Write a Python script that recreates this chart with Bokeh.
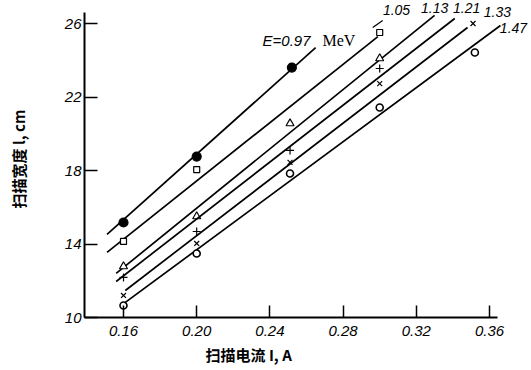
from bokeh.plotting import figure
from bokeh.models import Range1d, FixedTicker, Title
from bokeh.embed import file_html
from bokeh.resources import INLINE
from bokeh.core.properties import value

# ---- data ----
energies = ["0.97", "1.05", "1.13", "1.21", "1.33", "1.47"]
markers = ["circle", "square", "triangle", "cross", "x", "circle"]
filled = [True, False, False, False, False, False]

pts_x = {
    "0.97": [0.160, 0.200, 0.252],
    "1.05": [0.160, 0.200, 0.300],
    "1.13": [0.160, 0.200, 0.251, 0.300],
    "1.21": [0.160, 0.200, 0.251, 0.300],
    "1.33": [0.160, 0.200, 0.251, 0.300, 0.351],
    "1.47": [0.160, 0.200, 0.251, 0.300, 0.352],
}
pts_y = {
    "0.97": [15.17, 18.76, 23.60],
    "1.05": [14.14, 18.05, 25.51],
    "1.13": [12.78, 15.50, 20.56, 24.10],
    "1.21": [12.18, 14.68, 19.09, 23.55],
    "1.33": [11.20, 14.03, 18.44, 22.73, 26.00],
    "1.47": [10.65, 13.48, 17.84, 21.43, 24.42],
}
# fitted straight lines (start, end)
fit_x = {
    "0.97": [0.151, 0.265],
    "1.05": [0.151, 0.299],
    "1.13": [0.156, 0.330],
    "1.21": [0.156, 0.341],
    "1.33": [0.161, 0.348],
    "1.47": [0.161, 0.366],
}
fit_y = {
    "0.97": [14.52, 24.69],
    "1.05": [13.54, 25.29],
    "1.13": [12.40, 26.44],
    "1.21": [11.96, 26.27],
    "1.33": [11.47, 25.78],
    "1.47": [10.82, 25.89],
}

x_ticks = [0.16, 0.20, 0.24, 0.28, 0.32, 0.36]
x_tick_labels = ["0.16", "0.20", "0.24", "0.28", "0.32", "0.36"]
y_ticks = [10, 14, 18, 22, 26]
y_tick_labels = ["10", "14", "18", "22", "26"]

curve_labels = ["1.05", "1.13", "1.21", "1.33", "1.47"]
curve_label_x = [0.3092, 0.3300, 0.3475, 0.3643, 0.3731]
curve_label_y = [26.71, 26.82, 26.82, 26.60, 25.78]

x_title = "扫描电流 I, A"
y_title = "扫描宽度 l, cm"

# ---- figure ----
p = figure(width=531, height=370, output_backend="svg", toolbar_location=None,
           x_range=Range1d(0.13869, 0.38295), y_range=Range1d(10, 27.252),
           min_border_left=84, min_border_right=0, min_border_top=0,
           min_border_bottom=53)
p.outline_line_color = None
p.xgrid.visible = False
p.ygrid.visible = False
p.background_fill_color = "white"

for ax in (p.xaxis[0], p.yaxis[0]):
    ax.axis_line_width = 2
    ax.axis_line_color = "black"
    ax.major_tick_line_width = 1.5
    ax.major_tick_out = 0
    ax.minor_tick_in = 0
    ax.minor_tick_out = 0
    ax.major_label_text_font = "Liberation Sans"
    ax.major_label_text_font_style = "italic"
    ax.major_label_text_font_size = "15px"
    ax.major_label_text_color = "black"
    ax.axis_label_text_font = "Noto Sans CJK SC"
    ax.axis_label_text_font_style = "bold"
    ax.axis_label_text_font_size = "15px"
    ax.axis_label_text_color = "black"

p.xaxis[0].ticker = FixedTicker(ticks=x_ticks)
p.xaxis[0].major_label_overrides = dict(zip(x_ticks, x_tick_labels))
p.xaxis[0].major_tick_in = 12
p.xaxis[0].major_label_standoff = 8
p.xaxis[0].bounds = (0.13869, 0.3643)

p.yaxis[0].ticker = FixedTicker(ticks=y_ticks)
p.yaxis[0].major_label_overrides = dict(zip(y_ticks, y_tick_labels))
p.yaxis[0].major_tick_in = 13
p.yaxis[0].major_label_standoff = 3
p.yaxis[0].axis_label = y_title
p.yaxis[0].axis_label_standoff = 33
p.yaxis[0].bounds = (10, 26.6)

# x-axis title as a left-offset title below the axis
p.add_layout(Title(text=x_title, align="left", offset=121, standoff=6,
                   text_font="Noto Sans CJK SC", text_font_style="bold",
                   text_font_size="15px", text_color="black"), "below")

sizes = {"circle": 9, "square": 6, "triangle": 8, "cross": 8, "x": 7}
for e, m, f in zip(energies, markers, filled):
    p.line(fit_x[e], fit_y[e], line_color="black", line_width=1.7)
    sz = sizes[m]
    if e == "1.47":
        sz = 7
    p.scatter(pts_x[e], pts_y[e], marker=m, size=sz,
              fill_color="black" if f else "white",
              line_color="black", line_width=1.6 if e == "1.47" else 1.2)

# leader dash for 1.05
p.line([0.2962, 0.3016], [25.78, 26.16], line_color="black", line_width=1.2)

p.text(x=curve_label_x, y=curve_label_y, text=curve_labels,
       text_font=value("Liberation Sans"), text_font_style="italic",
       text_font_size="14px", text_align="center", text_baseline="middle",
       text_color="black")
p.text(x=[0.2360], y=[25.07], text=["E=0.97"],
       text_font=value("Liberation Sans"), text_font_style="italic",
       text_font_size="15px", text_align="left", text_baseline="middle",
       text_color="black")
p.text(x=[0.2687], y=[25.07], text=["MeV"],
       text_font=value("Liberation Serif"),
       text_font_size="16px", text_align="left", text_baseline="middle",
       text_color="black")

open("out.html", "w").write(file_html(p, INLINE))
